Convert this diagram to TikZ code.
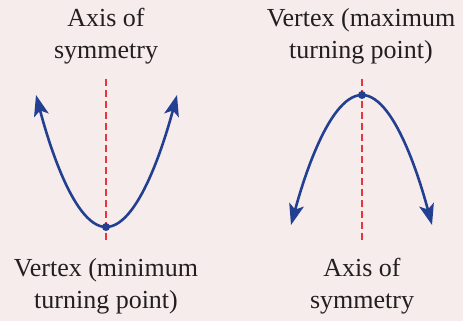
\documentclass[tikz,border=0pt]{standalone}
\usepackage{fontspec}
\setmainfont{Liberation Serif}
\usetikzlibrary{arrows.meta}
\definecolor{paperpink}{HTML}{F5ECEB}
\definecolor{curveblue}{HTML}{233F91}
\definecolor{axisred}{HTML}{E8343F}
\definecolor{textmain}{HTML}{231F20}

\begin{document}
\begin{tikzpicture}[
  x=1pt,y=1pt,line cap=round,line join=round,
  font=\fontsize{26}{32}\selectfont,
  curve/.style={curveblue,line width=2.6pt,
    {Stealth[length=21pt,width=15pt,inset=5pt]}-{Stealth[length=21pt,width=15pt,inset=5pt]}},
  axisline/.style={axisred,line width=1.2pt,line cap=butt,dash pattern=on 7pt off 4pt},
  vertexdot/.style={fill=curveblue},
  caption/.style={text=textmain,align=center,inner sep=0pt}
]
  \fill[paperpink] (0,0) rectangle (463,321);

  % Parabola opening upwards, minimum turning point.
  \coordinate (minV) at (106,94);
  \coordinate (minL) at (36,226);
  \coordinate (minR) at (177,226);
  \coordinate (minTop) at (106,242);
  \coordinate (minBot) at (106,79);
  \draw[axisline] (minTop) -- (minBot);
  \draw[curve] (minL) parabola bend (minV) (minR);
  \fill[vertexdot] (minV) circle[radius=4];

  % Parabola opening downwards, maximum turning point.
  \coordinate (maxV) at (362,226);
  \coordinate (maxL) at (291,96);
  \coordinate (maxR) at (432,96);
  \coordinate (maxTop) at (362,242);
  \coordinate (maxBot) at (362,79);
  \draw[axisline] (maxTop) -- (maxBot);
  \draw[curve] (maxL) parabola bend (maxV) (maxR);
  \fill[vertexdot] (maxV) circle[radius=4];

  % Labels.
  \node[caption] (minAxis) at (106,285) {Axis of\\symmetry};
  \node[caption] (minVertex) at (106,35) {Vertex (minimum\\turning point)};
  \node[caption] (maxVertex) at (361,285) {Vertex (maximum\\turning point)};
  \node[caption] (maxAxis) at (362,35) {Axis of\\symmetry};
\end{tikzpicture}
\end{document}
